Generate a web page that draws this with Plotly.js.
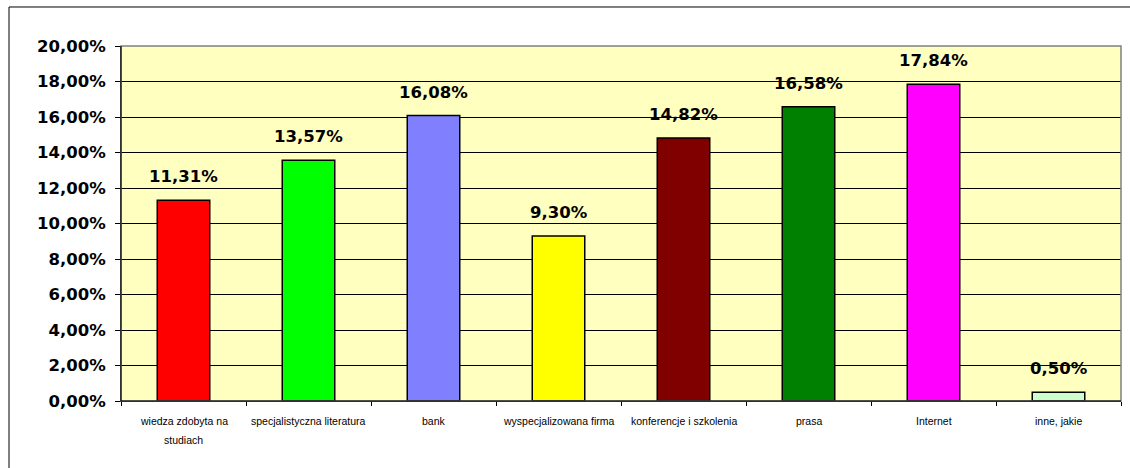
<!DOCTYPE html>
<html><head><meta charset="utf-8">
<script src="https://cdn.plot.ly/plotly-3.0.1.min.js"></script>
<style>html,body{margin:0;padding:0;background:#fff}#c{width:1130px;height:468px}</style>
</head><body><div id="c"></div>
<script>
const categories = ["wiedza zdobyta na<br>studiach","specjalistyczna literatura","bank","wyspecjalizowana firma","konferencje i szkolenia","prasa","Internet","inne, jakie"];
const values = [0.1131,0.1357,0.1608,0.0930,0.1482,0.1658,0.1784,0.0050];
const labels = ["11,31%","13,57%","16,08%","9,30%","14,82%","16,58%","17,84%","0,50%"];
const colors = ["#FF0000","#00FF00","#8080FF","#FFFF00","#800000","#008000","#FF00FF","#CCFFCC"];

const trace = {type:'bar', x:categories, y:values, marker:{color:colors, line:{color:'#000', width:1.5}}, hoverinfo:'none'};
const annotations = categories.map((c,i)=>({x:c, y:values[i], text:'<b>'+labels[i]+'</b>', showarrow:false, yanchor:'bottom', yshift:12, font:{family:'DejaVu Sans', size:16.5, color:'#000'}}));
categories.forEach((c)=>{
  c.split('<br>').forEach((line,j)=>{
    annotations.push({x:c, y:0, text:line, showarrow:false, yanchor:'middle', yshift:-(20+19*j), font:{family:'Liberation Sans, Arial', size:10.5, color:'#000'}});
  });
});
const layout = {
  width:1130, height:468,
  margin:{l:121, r:9, t:46, b:67, pad:0},
  paper_bgcolor:'#fff', plot_bgcolor:'#FFFFC0',
  separators:',.',
  showlegend:false, bargap:0.58,
  xaxis:{type:'category', showline:true, linecolor:'#000', linewidth:1, ticks:'outside', ticklen:4, tickcolor:'#000', tickson:'boundaries', showgrid:false,
         showticklabels:false},
  yaxis:{range:[0,0.2], dtick:0.02, tickformat:'.2%', showline:true, linecolor:'#000', linewidth:1, ticks:'outside', ticklen:5, tickcolor:'#000',
         showgrid:true, gridcolor:'#000', gridwidth:1, zeroline:false, ticklabelstandoff:6,
         tickfont:{family:'DejaVu Sans', size:16.5, color:'#000', weight:'bold'}},
  annotations:annotations,
  shapes:[
    {type:'rect', xref:'paper', yref:'paper', x0:0, x1:1, y0:0, y1:1, line:{color:'#808080', width:1.5}, fillcolor:'rgba(0,0,0,0)', layer:'above'},
    {type:'line', xref:'paper', yref:'paper', x0:0, x1:0, y0:0, y1:1, line:{color:'#000', width:1}, layer:'above'},
    {type:'line', xref:'paper', yref:'paper', x0:0, x1:1, y0:0, y1:0, line:{color:'#000', width:1}, layer:'above'},
    {type:'rect', xref:'paper', yref:'paper', x0:-0.112, x1:1.05, y0:-0.4, y1:1.1099, line:{color:'#000', width:1}, fillcolor:'rgba(0,0,0,0)'}
  ]
};
Plotly.newPlot('c',[trace],layout,{displayModeBar:false, staticPlot:true});
</script></body></html>
